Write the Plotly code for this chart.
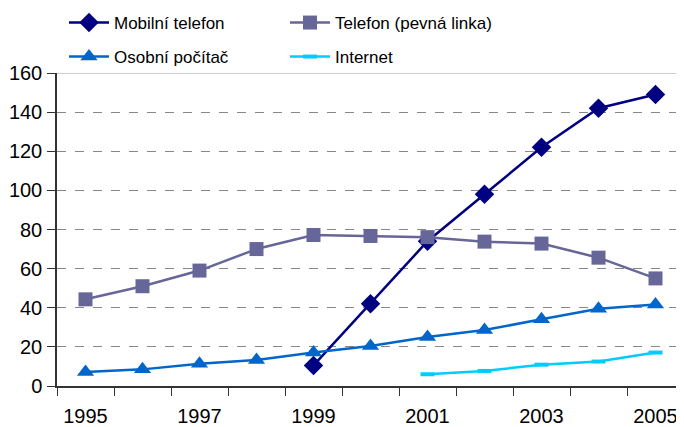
import plotly.graph_objects as go

years = list(range(1995, 2006))
mobil = [None, None, None, None, 10.5, 42, 74, 98, 122, 142, 149]
telefon = [44.3, 51, 59, 70, 77.2, 76.7, 76.1, 73.8, 72.8, 65.6, 55]
pocitac = [7.2, 8.5, 11.4, 13.3, 17.1, 20.4, 25, 28.6, 34.1, 39.5, 41.7]
internet = [None, None, None, None, None, None, 6, 7.7, 10.9, 12.5, 17.1]
tick_years = [1995, 1997, 1999, 2001, 2003, 2005]
boundaries = [y - 0.5 for y in years] + [years[-1] + 0.5]

fig = go.Figure()
fig.add_trace(go.Scatter(x=years, y=mobil, name="Mobilní telefon", mode="lines+markers",
                         line=dict(color="#000080", width=2.5),
                         marker=dict(symbol="diamond", size=15, color="#000080"), legend="legend"))
fig.add_trace(go.Scatter(x=years, y=telefon, name="Telefon (pevná linka)", mode="lines+markers",
                         line=dict(color="#666699", width=2.5),
                         marker=dict(symbol="square", size=14, color="#666699"), legend="legend"))
fig.add_trace(go.Scatter(x=years, y=pocitac, name="Osobní počítač", mode="lines+markers",
                         line=dict(color="#0066CC", width=2.5),
                         marker=dict(symbol="triangle-up", size=15, color="#0066CC"), legend="legend2"))
fig.add_trace(go.Scatter(x=years, y=internet, name="Internet", mode="lines+markers",
                         line=dict(color="#00CCFF", width=2.5),
                         marker=dict(symbol="line-ew", size=10, color="#00CCFF",
                                     line=dict(color="#00CCFF", width=4)), legend="legend2"))

fam = "Liberation Sans, Arial, sans-serif"
tickfont = dict(family=fam, size=20, color="#000000")
legfont = dict(family=fam, size=17, color="#000000")
W, H = 676, 419
fig.update_layout(
    width=W, height=H,
    margin=dict(l=49, r=0, t=65, b=41, autoexpand=False),
    paper_bgcolor="white", plot_bgcolor="white",
    font=legfont,
    showlegend=True,
    legend=dict(orientation="h", xref="container", x=56 / W, xanchor="left",
                yref="container", y=1 - 15 / H, yanchor="middle", itemwidth=40,
                entrywidth=166, font=legfont, bgcolor="rgba(0,0,0,0)"),
    legend2=dict(orientation="h", xref="container", x=56 / W, xanchor="left",
                 yref="container", y=1 - 49 / H, yanchor="middle", itemwidth=40,
                 entrywidth=166, font=legfont, bgcolor="rgba(0,0,0,0)"),
    xaxis=dict(range=[1994.5, 2005.5], tickvals=tick_years, ticks="", showgrid=False,
               showline=True, linecolor="#333333", linewidth=1.5, zeroline=False,
               automargin=False, ticklabelstandoff=11,
               minor=dict(tickvals=boundaries, ticks="outside", ticklen=8,
                          tickcolor="#333333", showgrid=False),
               tickfont=tickfont),
    yaxis=dict(range=[0, 160], dtick=20, ticks="outside", ticklen=8, tickcolor="#333333",
               showline=True, linecolor="#333333", linewidth=1.5, zeroline=False,
               automargin=False, ticklabelstandoff=1,
               showgrid=True, gridcolor="#888888", griddash="dash", gridwidth=1,
               tickfont=tickfont),
)
fig.add_shape(type="line", xref="paper", x0=0, x1=1, yref="y", y0=160, y1=160,
              line=dict(color="#BBBBBB", width=1.5))
fig.write_html("out.html")
